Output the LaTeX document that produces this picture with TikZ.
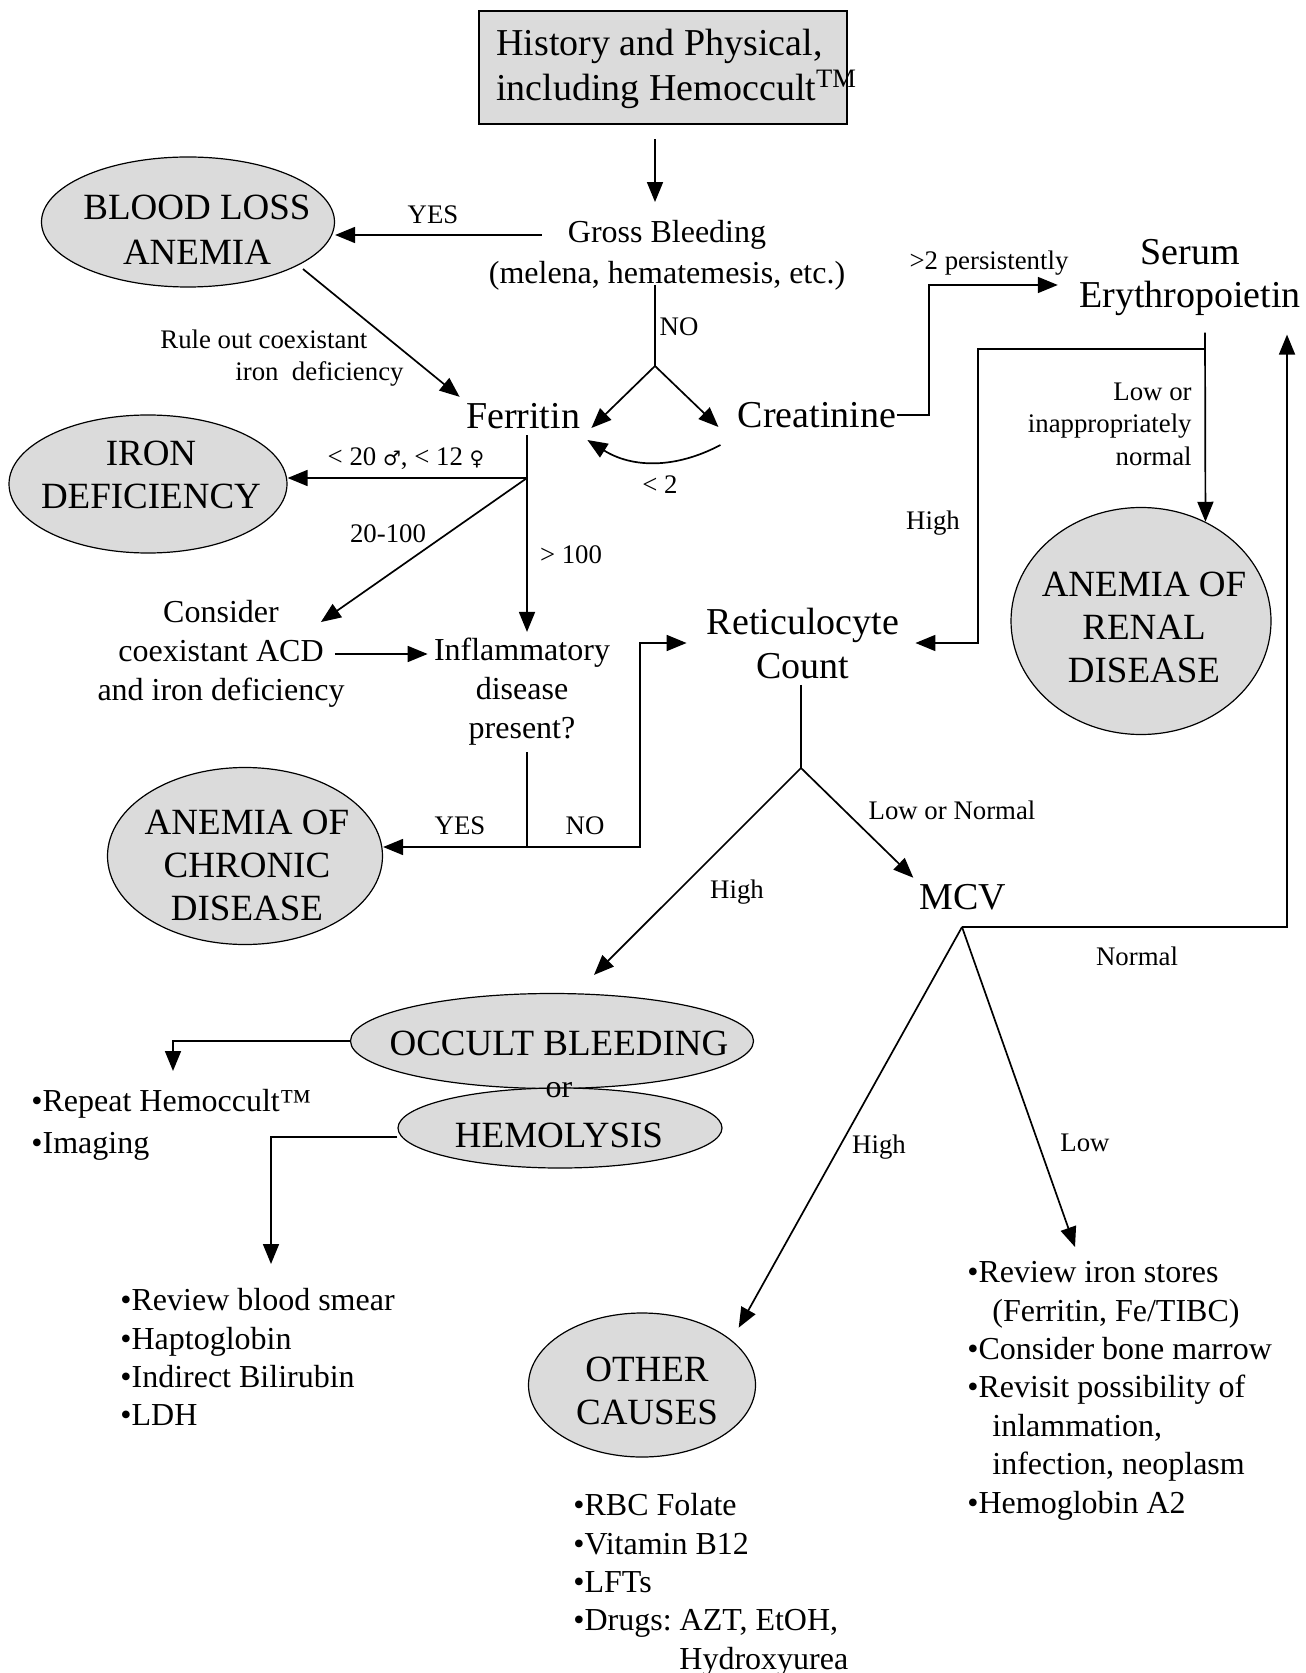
\documentclass[tikz,border=0pt]{standalone}
\usepackage{fontspec}
\setmainfont{Liberation Serif}
\newfontfamily\symfont{DejaVu Sans}
\usetikzlibrary{arrows.meta,shapes.geometric}
\definecolor{ovalgray}{gray}{0.86}
\newcommand{\gsym}[1]{{\symfont\fontsize{10}{12}\selectfont #1}}
\frenchspacing
\tikzset{
  big/.style={font=\fontsize{19}{22}\selectfont, align=center, inner sep=3pt},
  mid/.style={font=\fontsize{16}{19.5}\selectfont, align=center, inner sep=3pt},
  lab/.style={font=\fontsize{13.4}{16.2}\selectfont, inner sep=3pt},
  oval/.style={ellipse, draw, fill=ovalgray, line width=0.6pt, inner sep=0pt},
  ovaltext/.style={font=\fontsize{18.5}{21.5}\selectfont, align=center, inner sep=3pt},
  bul/.style={font=\fontsize{16}{19.2}\selectfont, align=left, anchor=north west, inner sep=0pt},
  arr/.style={-{Triangle[length=10pt,width=8pt]}, line width=0.85pt},
  ln/.style={line width=0.85pt}
}
\begin{document}
\begin{tikzpicture}[x=0.5pt,y=-0.5pt]
\useasboundingbox (0,0) rectangle (1305,1673);

\node[draw, line width=1.4pt, fill=ovalgray, minimum width=184pt, minimum height=56.5pt] (hist) at (663,67.5) {};
\node[anchor=west, align=left, inner sep=0pt, font=\fontsize{19}{22.5}\selectfont] (histt) at (496,68.5) {History and Physical,\\including Hemoccult\textsuperscript{TM}};
\node[mid] (gross) at (667,235) {Gross Bleeding};
\node[mid] (melena) at (667,276) {(melena, hematemesis, etc.)};
\node[big] (ferr) at (523,416) {Ferritin};
\node[big] (crea) at (817,415) {Creatinine};
\node[big, font=\fontsize{19}{21.5}\selectfont] (serum) at (1190,278) {Serum\\Erythropoietin};
\node[big] (reti) at (803,643) {Reticulocyte\\Count};
\node[big] (mcv) at (963,897) {MCV};
\node[mid, font=\fontsize{16}{19.5}\selectfont] (cons) at (221,654) {Consider\\coexistant ACD\\and iron deficiency};
\node[mid] (infl) at (522,692) {Inflammatory\\disease\\present?};

\node[oval, minimum width=146.5pt, minimum height=65pt] (bla) at (188,222) {};
\node[ovaltext, font=\fontsize{18.5}{22.5}\selectfont] (blat) at (197,230) {BLOOD LOSS\\ANEMIA};
\node[oval, minimum width=139pt, minimum height=69pt] (iron) at (148,484) {};
\node[ovaltext] (iront) at (151,475) {IRON\\DEFICIENCY};
\node[oval, minimum width=130pt, minimum height=113.5pt] (renal) at (1141,621) {};
\node[ovaltext] (renalt) at (1144,627) {ANEMIA OF\\RENAL\\DISEASE};
\node[oval, minimum width=137.5pt, minimum height=88.5pt] (chron) at (245,856) {};
\node[ovaltext] (chront) at (247,865) {ANEMIA OF\\CHRONIC\\DISEASE};
\node[oval, minimum width=201.5pt, minimum height=47.5pt] (occ) at (552,1041) {};
\node[ovaltext] (occt) at (559,1043) {OCCULT BLEEDING};
\node[oval, minimum width=162pt, minimum height=40pt] (hem) at (560,1128) {};
\node[ovaltext] (hemt) at (559,1135) {HEMOLYSIS};
\node[mid] (ortxt) at (559,1090) {or};
\node[oval, minimum width=113.5pt, minimum height=72pt] (other) at (642,1385) {};
\node[ovaltext] (othert) at (647,1391) {OTHER\\CAUSES};

\node[bul] (repl) at (31,1089) {•Repeat Hemoccult™\\[1.8pt]•Imaging};
\node[bul] (heml) at (120,1288) {•Review blood smear\\•Haptoglobin\\•Indirect Bilirubin\\•LDH};
\node[bul] (othl) at (573,1493) {•RBC Folate\\•Vitamin B12\\•LFTs\\•Drugs: AZT, EtOH,\\\hspace*{53pt}Hydroxyurea};
\node[bul] (lowl) at (967,1261) {•Review iron stores\\\hspace*{12.5pt}(Ferritin, Fe/TIBC)\\•Consider bone marrow\\•Revisit possibility of\\\hspace*{12.5pt}inlammation,\\\hspace*{12.5pt}infection, neoplasm\\•Hemoglobin A2};

\node[lab] (yes1) at (433,215) {YES};
\node[lab] (no1) at (679,327) {NO};
\node[lab] (lt2) at (660,485) {< 2};
\node[lab] (gt2) at (989,263) {>2 persistently};
\node[lab, align=left, anchor=west] (rule) at (154,358) {Rule out coexistant\\\hspace*{37.5pt}iron\ \ deficiency};
\node[lab, align=right, anchor=east] (lowor) at (1198,424) {Low or\hspace{3pt}\\inappropriately\\normal};
\node[lab] (high1) at (933,523) {High};
\node[lab] (sexlab) at (406,459) {< 20 \gsym{♂}, < 12 \gsym{♀}};
\node[lab] (midlab) at (388,534) {20-100};
\node[lab] (hilab) at (571,555) {> 100};
\node[lab] (yes2) at (460,826) {YES};
\node[lab] (no2) at (585,826) {NO};
\node[lab] (lonorm) at (952,810) {Low or Normal};
\node[lab] (high2) at (737,892) {High};
\node[lab] (norm) at (1137,956) {Normal};
\node[lab] (high3) at (879,1147) {High};
\node[lab] (low1) at (1085,1143) {Low};

\coordinate (nosplit) at (655,366);
\coordinate (crebend) at (929,285);
\coordinate (sd) at (1205,349);
\coordinate (hicorner) at (978,349);
\coordinate (fj) at (527,478);
\coordinate (ij) at (527,847);
\coordinate (nocorner) at (640,847);
\coordinate (rj) at (801,768);
\coordinate (mj) at (962,927);
\coordinate (mjr) at (1287,927);
\coordinate (octip) at (173,1071);
\coordinate (hemtip) at (271,1264);

\draw[arr] ([yshift=-7pt]hist.south -| nosplit) -- ([yshift=6pt]gross.north -| nosplit);
\draw[arr] ([xshift=-10pt]gross.west) -- (bla.east |- gross.west);
\draw[ln] ([yshift=6pt]melena.south -| nosplit) -- (nosplit);
\draw[arr] (nosplit) -- ([shift={(2.5pt,-6pt)}]ferr.east);
\draw[arr] (nosplit) -- ([shift={(-6.5pt,-6pt)}]crea.west);
\draw[arr] ([shift={(-5.5pt,-15pt)}]crea.west) to[bend left=30] ([shift={(0.5pt,-12pt)}]ferr.east);
\draw[arr] ([xshift=-3pt]crea.east) -| (crebend) -- ([xshift=-7.5pt]crebend -| serum.west);
\draw[arr] ([yshift=-5pt]serum.south -| sd) -- (renal.57);
\draw[arr] (sd) -- (hicorner) |- ([xshift=5pt]reti.east);
\draw[arr] ([shift={(3pt,-1.5pt)}]bla.-22) -- (ferr.north west);
\draw[arr] (ferr.south -| fj) -- (infl.north -| fj);
\draw[arr] (fj) -- (iron.east |- fj);
\draw[arr] (fj) -- ([shift={(-15pt,-14pt)}]cons.north east);
\draw[arr] ([xshift=-8pt]cons.east) -- (cons.east -| infl.west);
\draw[ln] (infl.south -| ij) -- (ij);
\draw[arr] (ij) -- (chron.east |- ij);
\draw[arr] (ij) -- (nocorner) |- ([xshift=-7pt]reti.west);
\draw[ln] (reti.south -| rj) -- (rj);
\draw[arr] (rj) -- (mcv.north west);
\draw[arr] (rj) -- ([shift={(21pt,9pt)}]occ.north);
\draw[arr] (mj) -- (mjr) -- ([yshift=-6pt]mjr |- serum.south);
\draw[arr] (mj) -- ([shift={(8pt,3pt)}]other.north east);
\draw[arr] (mj) -- ([shift={(54pt,7pt)}]lowl.north west);
\draw[arr] (occ.west) -| (octip);
\draw[arr] ([yshift=-4.5pt]hem.west) -| (hemtip);
\end{tikzpicture}
\end{document}
